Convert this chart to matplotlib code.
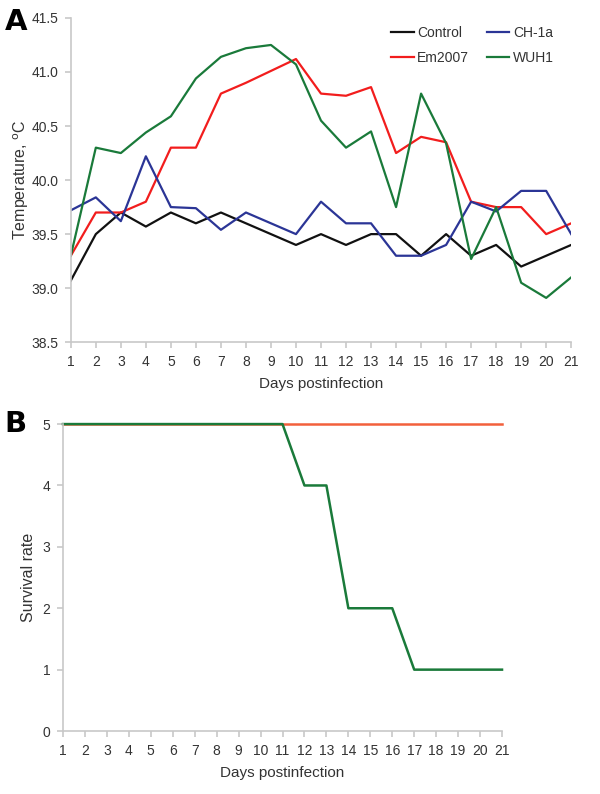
import matplotlib.pyplot as plt

plt.rcParams['font.family'] = ['Liberation Sans', 'DejaVu Sans']

# dados
dias = list(range(1, 22))
controle = [39.07, 39.5, 39.7, 39.57, 39.7, 39.6, 39.7, 39.6, 39.5, 39.4, 39.5,
            39.4, 39.5, 39.5, 39.3, 39.5, 39.3, 39.4, 39.2, 39.3, 39.4]
ch1a = [39.72, 39.84, 39.62, 40.22, 39.75, 39.74, 39.54, 39.7, 39.6, 39.5, 39.8,
        39.6, 39.6, 39.3, 39.3, 39.4, 39.8, 39.71, 39.9, 39.9, 39.5]
em2007 = [39.3, 39.7, 39.7, 39.8, 40.3, 40.3, 40.8, 40.9, 41.01, 41.12, 40.8,
          40.78, 40.86, 40.25, 40.4, 40.35, 39.8, 39.75, 39.75, 39.5, 39.6]
wuh1 = [39.3, 40.3, 40.25, 40.44, 40.59, 40.94, 41.14, 41.22, 41.25, 41.07, 40.55,
        40.3, 40.45, 39.75, 40.8, 40.34, 39.27, 39.75, 39.05, 38.91, 39.1]

sobrev_em2007 = [5] * 21
sobrev_wuh1 = [5, 5, 5, 5, 5, 5, 5, 5, 5, 5, 5, 4, 4, 2, 2, 2, 1, 1, 1, 1, 1]

cinza = '#c8c8c8'
texto = '#333333'


def estilo(ax):
    for s in ['top', 'right']:
        ax.spines[s].set_visible(False)
    for s in ['left', 'bottom']:
        ax.spines[s].set_color(cinza)
        ax.spines[s].set_linewidth(1.2)
    ax.tick_params(colors=cinza, labelcolor=texto, labelsize=10, length=4, width=1.2)
    ax.tick_params(axis='x', pad=5)
    ax.tick_params(axis='y', pad=5)


fig = plt.figure(figsize=(6, 7.94), dpi=100)

# --- PAINEL A ---
ax1 = fig.add_axes([0.118, 0.569, 0.834, 0.4084])
ax1.plot(dias, controle, color='#111111', lw=1.6, label='Control')
ax1.plot(dias, em2007, color='#f21d1d', lw=1.6, label='Em2007')
ax1.plot(dias, ch1a, color='#2b3596', lw=1.6, label='CH-1a')
ax1.plot(dias, wuh1, color='#1a7a3a', lw=1.6, label='WUH1')
ax1.set_xlim(1, 21)
ax1.set_ylim(38.5, 41.5)
ax1.set_xticks(dias)
ax1.set_yticks([38.5, 39.0, 39.5, 40.0, 40.5, 41.0, 41.5])
ax1.set_yticklabels(['38.5', '39.0', '39.5', '40.0', '40.5', '41.0', '41.5'])
estilo(ax1)
ax1.set_ylabel('Temperature, $^{\\rm o}$C', fontsize=11.5, color=texto)
ax1.yaxis.set_label_coords(-0.079, 0.5)
ax1.set_xlabel('Days postinfection', fontsize=11, color=texto, labelpad=6)
ax1.legend(ncol=2, loc='upper right', bbox_to_anchor=(0.99, 1.015), frameon=False,
           fontsize=10, handlelength=1.6, columnspacing=1.3, handletextpad=0.25,
           labelspacing=0.8, labelcolor=texto)
fig.text(0.008, 0.962, 'A', fontsize=21, fontweight='heavy', family='DejaVu Sans')

# --- PAINEL B ---
ax2 = fig.add_axes([0.105, 0.0793, 0.7317, 0.3866])
ax2.plot(dias, sobrev_em2007, color='#f2603c', lw=1.8)
ax2.plot(dias, sobrev_wuh1, color='#1a7a3a', lw=1.8)
ax2.set_xlim(1, 21)
ax2.set_ylim(0, 5)
ax2.set_xticks(dias)
ax2.set_yticks(range(6))
for l in ax2.lines:
    l.set_clip_on(False)
estilo(ax2)
ax2.set_ylabel('Survival rate', fontsize=11.5, color=texto)
ax2.yaxis.set_label_coords(-0.061, 0.5)
ax2.set_xlabel('Days postinfection', fontsize=11, color=texto, labelpad=6)
fig.text(0.008, 0.456, 'B', fontsize=21, fontweight='heavy', family='DejaVu Sans')

fig.savefig('out.png', dpi=100)
